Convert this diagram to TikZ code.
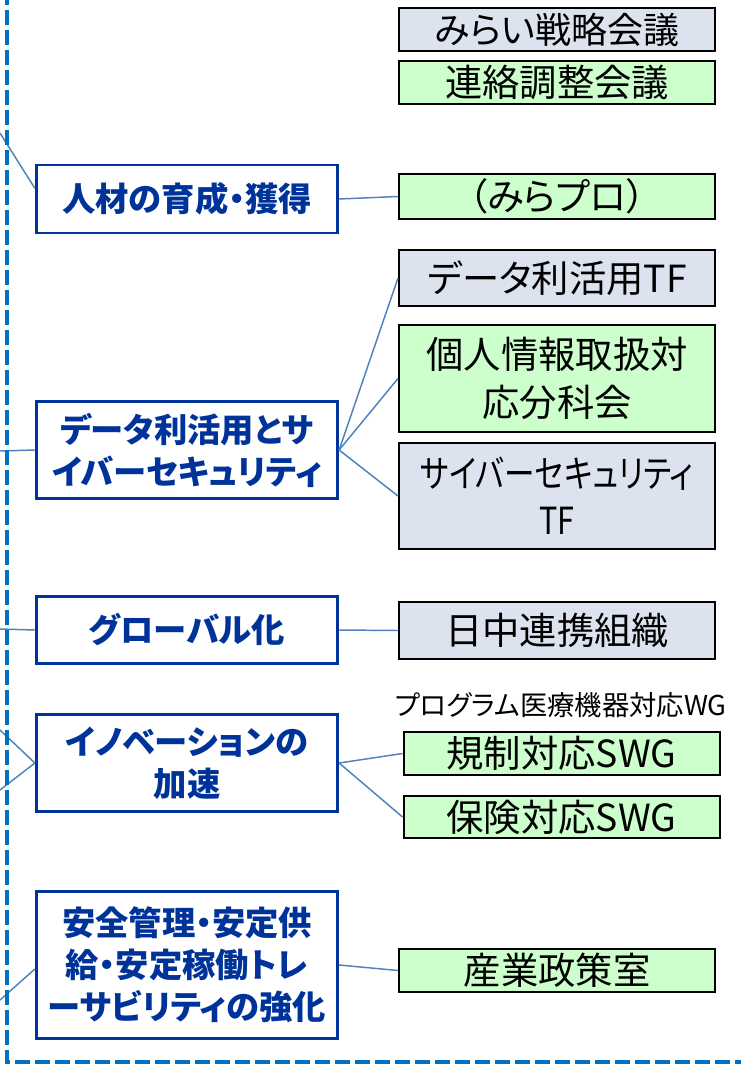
\documentclass[tikz,border=0pt]{standalone}
\usepackage{fontspec}
\setmainfont{Noto Sans CJK JP}[RawFeature=+palt]
\definecolor{deepblue}{RGB}{0,51,153}
\definecolor{frameblue}{RGB}{0,112,192}
\definecolor{linkblue}{RGB}{79,129,189}
\definecolor{paleblue}{RGB}{220,227,239}
\definecolor{palegreen}{RGB}{204,255,204}

\begin{document}
\begin{tikzpicture}[x=0.75pt,y=-0.75pt,
	theme/.style={draw=deepblue, line width=2.2pt, fill=white, text=deepblue, font=\fontsize{25}{31.5}\selectfont\bfseries, align=center, minimum width=226pt, inner sep=0pt},
	group/.style={draw=black, line width=1.5pt, font=\fontsize{28}{36}\selectfont, align=center, minimum width=237pt, inner sep=0pt},
	link/.style={linkblue, line width=1.1pt}]

		\useasboundingbox (0,0) rectangle (741,1066);

		\node[theme, minimum height=51pt] (ppl) at (187,199) {人材の育成・獲得};
		\node[theme, minimum height=73pt] (datacyber) at (187,450) {データ利活用とサ\\イバーセキュリティ};
		\node[theme, minimum height=50pt] (glob) at (187,630) {グローバル化};
		\node[theme, minimum height=73pt] (inno) at (187,763) {イノベーションの\\加速};
		\node[theme, minimum height=110pt] (safety) at (187,965) {安全管理・安定供\\給・安定稼働トレ\\ーサビリティの強化};

		\node[group, fill=paleblue, minimum height=32pt, font=\fontsize{27}{36}\selectfont] (mirai) at (557,29.5) {みらい戦略会議};
		\node[group, fill=palegreen, minimum height=32pt] (renraku) at (557,82.5) {連絡調整会議};
		\node[group, fill=palegreen, minimum height=34pt] (mirapuro) at (557,196.5) {（みらプロ）};
		\node[group, fill=paleblue, minimum height=42pt] (dataTF) at (557,278) {データ利活用TF};
		\node[group, fill=palegreen, minimum height=80pt] (kojin) at (557,378.5) {個人情報取扱対\\応分科会};
		\node[group, fill=paleblue, minimum height=79.5pt, font=\addfontfeatures{FakeStretch=0.82}\fontsize{28}{35}\selectfont] (cyberTF) at (557,496) {サイバーセキュリティ\\TF};
		\node[group, fill=paleblue, minimum height=43pt] (nicchu) at (557,630.5) {日中連携組織};
		\node[font=\fontsize{20.5}{24}\selectfont, inner sep=0pt] (wgLabel) at (561,705) {プログラム医療機器対応WG};
		\node[group, fill=palegreen, minimum height=32pt] (kisei) at (561.5,753.5) {規制対応SWG};
		\node[group, fill=palegreen, minimum height=31.5pt] (hoken) at (561.5,817) {保険対応SWG};
		\node[group, fill=palegreen, minimum height=32pt] (sangyo) at (557,970.5) {産業政策室};

		\coordinate (in1) at (0,133);
		\coordinate (in2) at (0,451);
		\coordinate (in3) at (0,629);
		\coordinate (in4a) at (0,730);
		\coordinate (in4b) at (0,790);
		\coordinate (in5) at (0,1000);

		\draw[link] (in1) -- ([yshift=8pt]ppl.west);
		\draw[link] (in2) -- (datacyber.west);
		\draw[link] (in3) -- (glob.west);
		\draw[link] (in4a) -- (inno.west);
		\draw[link] (in4b) -- (inno.west);
		\draw[link] (in5) -- ([yshift=-3pt]safety.west);

		\draw[link] (ppl.east) -- (mirapuro.west);
		\draw[link] (datacyber.east) -- (dataTF.west);
		\draw[link] (datacyber.east) -- (kojin.west);
		\draw[link] (datacyber.east) -- (cyberTF.west);
		\draw[link] (glob.east) -- (nicchu.west);
		\draw[link] (inno.east) -- (kisei.west);
		\draw[link] (inno.east) -- (hoken.west);
		\draw[link] (safety.east) -- (sangyo.west);

		\draw[frameblue, line width=3pt, dash pattern=on 11pt off 4pt] (7,-10) -- (7,1062) -- (760,1062);
	\end{tikzpicture}
\end{document}
